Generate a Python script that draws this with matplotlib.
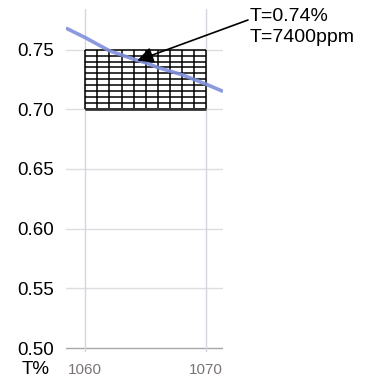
import numpy as np
import matplotlib
matplotlib.use("Agg")
import matplotlib.pyplot as plt

plt.rcParams['font.family'] = ['Liberation Sans', 'DejaVu Sans']

# data
curve_x = [1058.4, 1060, 1062, 1064, 1065, 1066, 1068, 1070, 1071.4]
curve_y = [0.768, 0.760, 0.749, 0.742, 0.739, 0.735, 0.729, 0.721, 0.715]
box_x = [1060, 1061, 1062, 1063, 1064, 1065, 1066, 1067, 1068, 1069, 1070]
box_y = [0.700, 0.705, 0.710, 0.715, 0.720, 0.725, 0.730, 0.735, 0.740, 0.745, 0.750]
y_ticks = [0.50, 0.55, 0.60, 0.65, 0.70, 0.75]
x_ticks = [1060, 1070]
annot_point = (1064.3, 0.7408)
annot_lines = ["T=0.74%", "T=7400ppm"]

fig = plt.figure(figsize=(3.65, 3.83), dpi=100)
ax = fig.add_axes([66/365, 31/383, (223-66)/365, (374-31)/383])
ax.set_xlim(1058.4, 1071.4)
ax.set_ylim(0.4967, 0.784)

for s in ax.spines.values():
    s.set_visible(False)

# grid
for yt in y_ticks:
    ax.axhline(yt, color='#a9a6ab' if yt == 0.50 else '#dcdce2', lw=1.0, zorder=0)
for xt in x_ticks:
    ax.axvline(xt, color='#d6d4dc', lw=1.0, zorder=0)

# black grid box
ax.vlines(box_x, box_y[0], box_y[-1], color='black', lw=1.1, zorder=2)
ax.hlines(box_y, box_x[0], box_x[-1], color='black', lw=1.1, zorder=2)
ax.hlines(box_y[0], box_x[0], box_x[-1], color='#333333', lw=2.0, zorder=2)

# curve
ax.plot(curve_x, curve_y, color='#8090dc', lw=2.6, zorder=3, alpha=0.9,
        solid_capstyle='butt')

ax.set_xticks(x_ticks)
ax.set_xticklabels([str(v) for v in x_ticks], color='#7a7478', fontsize=11)
ax.set_yticks(y_ticks)
ax.set_yticklabels([f"{v:.2f}" for v in y_ticks], color='black', fontsize=13.5)
ax.tick_params(length=0, pad=8)
ax.tick_params(axis='y', pad=9)

ax.annotate('', xy=annot_point, xycoords='data',
            xytext=(248, 363), textcoords='figure pixels',
            arrowprops=dict(arrowstyle='-|>', color='black', lw=1.2, mutation_scale=24,
                            shrinkA=0, shrinkB=0),
            annotation_clip=False)
fig.text(250/365, 1 - 21/383, annot_lines[0], ha='left', va='baseline', fontsize=14)
fig.text(250/365, 1 - 42/383, annot_lines[1], ha='left', va='baseline', fontsize=14)
fig.text(36/365, 1 - 369/383, "T%", ha='center', va='center', fontsize=13.5)

fig.savefig("out.png", dpi=100)
